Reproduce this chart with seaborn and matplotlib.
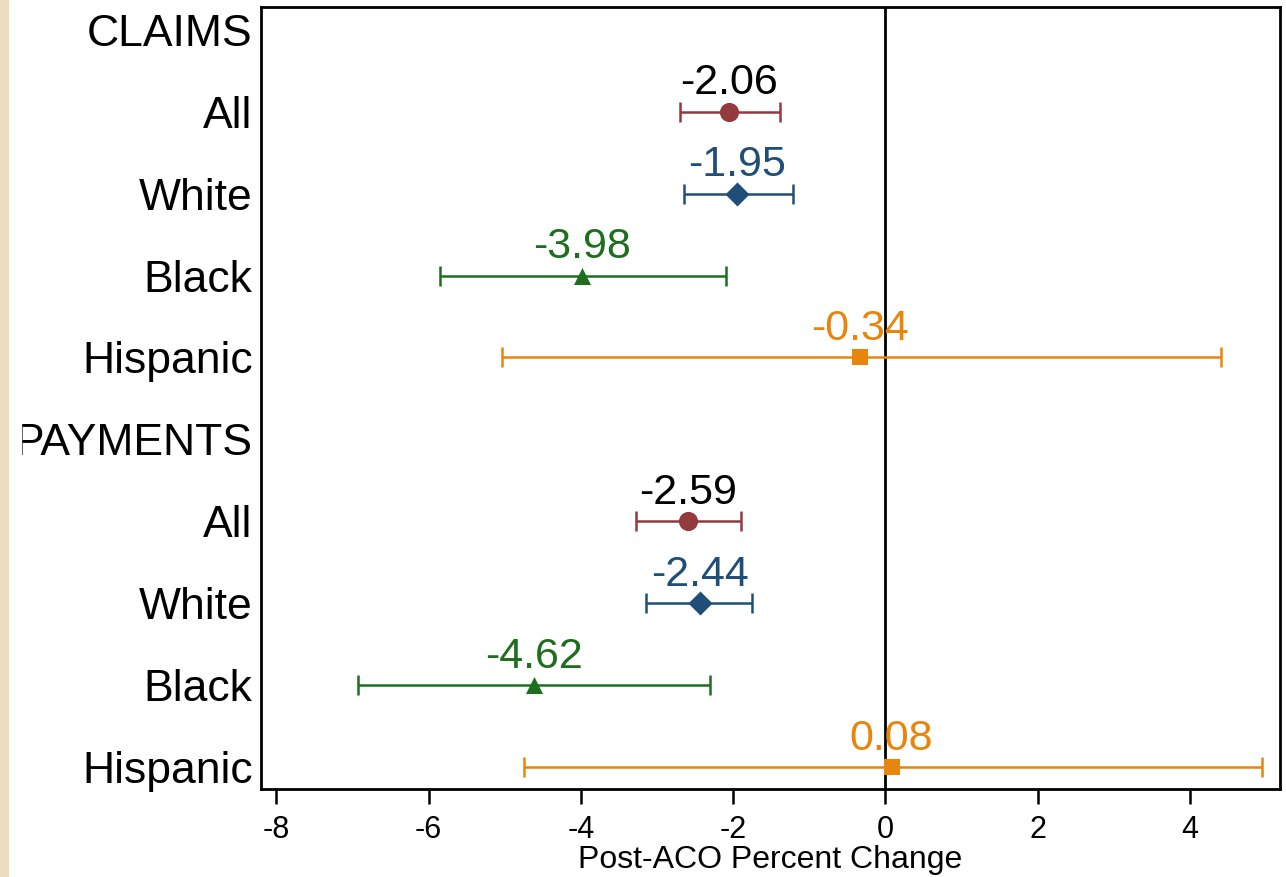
import matplotlib
matplotlib.use("Agg")
import matplotlib.pyplot as plt
import seaborn as sns
import pandas as pd
import numpy as np

# ---- data ----
row_labels = ["CLAIMS", "All", "White", "Black", "Hispanic",
              "PAYMENTS", "All", "White", "Black", "Hispanic"]
groups = ["All", "White", "Black", "Hispanic"]
claims_est = [-2.06, -1.95, -3.98, -0.34]
claims_lo = [-2.70, -2.64, -5.85, -5.04]
claims_hi = [-1.39, -1.22, -2.10, 4.40]
pay_est = [-2.59, -2.44, -4.62, 0.08]
pay_lo = [-3.28, -3.14, -6.93, -4.75]
pay_hi = [-1.90, -1.75, -2.30, 4.94]
x_ticks = [-8, -6, -4, -2, 0, 2, 4]

colors = {"All": "#933A3D", "White": "#1F4E79", "Black": "#1D6E1D", "Hispanic": "#E8850C"}
markers = {"All": "o", "White": "D", "Black": "^", "Hispanic": "s"}
sizes = {"All": 190, "White": 150, "Black": 150, "Hispanic": 120}

rows = []
for i, g in enumerate(groups):
    rows.append(dict(section="CLAIMS", group=g, y=1 + i, est=claims_est[i], lo=claims_lo[i], hi=claims_hi[i]))
    rows.append(dict(section="PAYMENTS", group=g, y=6 + i, est=pay_est[i], lo=pay_lo[i], hi=pay_hi[i]))
df = pd.DataFrame(rows)

sns.set_style("white")
plt.rcParams["font.family"] = ["Liberation Sans", "DejaVu Sans"]

fig = plt.figure(figsize=(12.86, 8.77), dpi=100)
ax = fig.add_axes([261 / 1286, 1 - 789 / 877, (1280 - 261) / 1286, (789 - 7) / 877])

ax.axvline(0, color="black", lw=2, zorder=1)

for _, r in df.iterrows():
    c = colors[r.group]
    ax.errorbar([r.est], [r.y], xerr=[[r.est - r.lo], [r.hi - r.est]], fmt="none",
                ecolor=c, elinewidth=1.8, capsize=7, capthick=1.8, zorder=2)
    ax.annotate(f"{r.est:.2f}", (r.est, r.y), xytext=(0, 6), textcoords="offset points",
                ha="center", va="bottom", fontsize=31, color=("black" if r.group == "All" else c),
                zorder=4)

for g in groups:
    sub = df[df.group == g]
    sns.scatterplot(data=sub, x="est", y="y", ax=ax, color=colors[g], marker=markers[g],
                    s=sizes[g], edgecolor=colors[g], linewidth=0, zorder=3, legend=False)

ax.set_xlim(-8.2, 5.18)
ax.set_ylim(9.27, -0.28)
ax.set_yticks(range(len(row_labels)))
ax.set_yticklabels(row_labels, fontsize=32, color="black")
ax.tick_params(axis="y", left=False, length=0, pad=6)
ax.set_xticks(x_ticks)
ax.set_xticklabels([str(t) for t in x_ticks], fontsize=22, color="black")
ax.tick_params(axis="x", bottom=True, length=11, width=1.8, direction="out", pad=8, color="black")
ax.set_xlabel("Post-ACO Percent Change", fontsize=23, labelpad=0, color="black")
ax.set_ylabel("")
for s in ax.spines.values():
    s.set_visible(True)
    s.set_color("black")
    s.set_linewidth(2)

# beige slide strip at left, and white margin clipping the left of the labels
fig.patches.append(plt.Rectangle((8 / 1286, 0), 13 / 1286, 1, transform=fig.transFigure,
                                 color="white", zorder=10))
fig.patches.append(plt.Rectangle((0, 0), 8 / 1286, 1, transform=fig.transFigure,
                                 color="#EDDDC0", zorder=11))

fig.savefig("out.png", dpi=100)
